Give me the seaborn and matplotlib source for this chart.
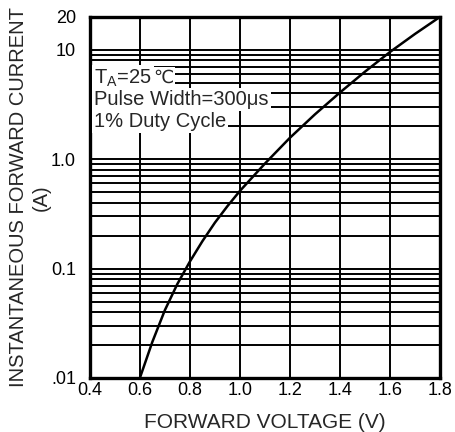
import numpy as np
import pandas as pd
import matplotlib
matplotlib.use("Agg")
import matplotlib.pyplot as plt
import seaborn as sns
from matplotlib.ticker import LogLocator, FixedLocator, NullFormatter

# forward characteristic
voltage = [0.60, 0.65, 0.70, 0.75, 0.80, 0.85, 0.90, 0.95, 1.00,
           1.10, 1.20, 1.30, 1.40, 1.50, 1.60, 1.70, 1.80]
current = [0.010, 0.0214, 0.0417, 0.0724, 0.116, 0.178, 0.263, 0.372, 0.513,
           0.912, 1.57, 2.57, 4.07, 6.31, 9.55, 13.96, 20.0]

x_ticks = [0.4, 0.6, 0.8, 1.0, 1.2, 1.4, 1.6, 1.8]
x_labels = ["0.4", "0.6", "0.8", "1.0", "1.2", "1.4", "1.6", "1.8"]
y_ticks = [0.01, 0.1, 1.0, 10, 20]
y_labels = [".01", "0.1", "1.0", "10", "20"]
notes = ["T$_{\\rm A}$=25", "Pulse Width=300\u03bcs", "1% Duty Cycle"]
deg_sign = "\u2103"

sns.set_style("white")
plt.rcParams["font.family"] = ["Liberation Sans", "DejaVu Sans"]
plt.rcParams["mathtext.fontset"] = "custom"
plt.rcParams["mathtext.rm"] = "Liberation Sans"
plt.rcParams["mathtext.it"] = "Liberation Sans"

fig = plt.figure(figsize=(4.56, 4.32), dpi=100)
ax = fig.add_axes([0.197, 0.125, 0.768, 0.836])

df = pd.DataFrame({"v": voltage, "i": current})
ax.set_yscale("log")
sns.lineplot(data=df, x="v", y="i", color="black", linewidth=1.8, ax=ax, zorder=3)

ax.set_xlim(0.4, 1.8)
ax.set_ylim(0.01, 20)

ax.xaxis.set_major_locator(FixedLocator(x_ticks))
ax.set_xticklabels(x_labels)
ax.yaxis.set_major_locator(FixedLocator(y_ticks))
ax.set_yticklabels(y_labels)
ax.yaxis.set_minor_locator(LogLocator(base=10, subs=np.arange(1, 10), numticks=20))
ax.yaxis.set_minor_formatter(NullFormatter())

ax.grid(True, which="both", axis="y", color="black", linewidth=1.4)
ax.grid(True, which="major", axis="x", color="black", linewidth=1.4)
ax.tick_params(axis="both", which="both", length=0, labelsize=13, colors="black")
ax.tick_params(axis="x", pad=3)
ax.tick_params(axis="y", pad=10)
for s in ax.spines.values():
    s.set_color("black")
    s.set_linewidth(2.4)

ax.set_xlabel("FORWARD VOLTAGE (V)", fontsize=15, labelpad=10)
ax.set_ylabel("INSTANTANEOUS FORWARD CURRENT\n(A)", fontsize=14.5, labelpad=0,
              linespacing=1.25)

note_y = [0.831, 0.770, 0.709]
box = dict(facecolor="white", edgecolor="none", pad=1.5)
note_texts = []
for txt, yy in zip(notes, note_y):
    t = ax.text(0.012, yy, txt, transform=ax.transAxes, fontsize=14.5, va="center",
                ha="left", zorder=4, bbox=box)
    note_texts.append(t)

# degree Celsius sign is not in Liberation Sans, draw it right after "25"
ax.annotate(deg_sign, xy=(1, 0.5), xycoords=note_texts[0], xytext=(1.5, 0),
            textcoords="offset points", va="center", ha="left",
            fontsize=13, family="DejaVu Sans", zorder=3.5,
            bbox=dict(facecolor="white", edgecolor="none", pad=1.0))

fig.savefig("out.png", dpi=100)
